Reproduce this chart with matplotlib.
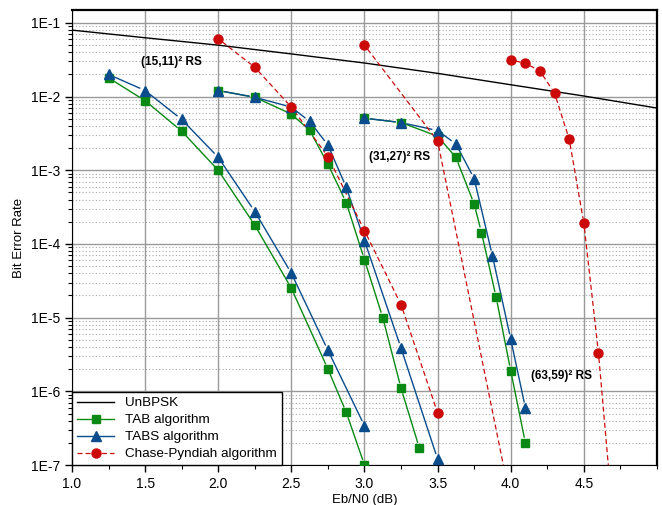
import matplotlib
matplotlib.use('Agg')
from matplotlib import pyplot as plt
from matplotlib.lines import Line2D
from matplotlib.ticker import LogLocator, MultipleLocator, FuncFormatter, NullFormatter
import numpy as np

plt.rcParams['font.family'] = ['Liberation Sans', 'DejaVu Sans']

# uncoded BPSK reference curve
ebn0_uncoded = [1.0, 1.5, 2.0, 2.5, 3.0, 3.5, 4.0, 4.5, 5.0]
ber_uncoded = [0.080, 0.063, 0.050, 0.038, 0.0286, 0.0207, 0.0145, 0.0102, 0.0070]

# (15,11)^2 RS product code
tab_15_x = [1.25, 1.5, 1.75, 2.0, 2.25, 2.5, 2.75, 2.875, 3.0]
tab_15_y = [1.8e-2, 8.8e-3, 3.4e-3, 1.0e-3, 1.8e-4, 2.5e-5, 2.0e-6, 5.2e-7, 1.0e-7]
tabs_15_x = [1.25, 1.5, 1.75, 2.0, 2.25, 2.5, 2.75, 3.0]
tabs_15_y = [2.0e-2, 1.21e-2, 4.9e-3, 1.5e-3, 2.75e-4, 4.0e-5, 3.6e-6, 3.4e-7]
chase_15_x = [2.0, 2.25, 2.5, 2.75, 3.0, 3.25, 3.5]
chase_15_y = [6.1e-2, 2.5e-2, 7.2e-3, 1.54e-3, 1.52e-4, 1.5e-5, 5.1e-7]

# (31,27)^2 RS product code
tab_31_x = [2.0, 2.25, 2.5, 2.625, 2.75, 2.875, 3.0, 3.125, 3.25, 3.375]
tab_31_y = [1.21e-2, 9.8e-3, 5.8e-3, 3.5e-3, 1.21e-3, 3.65e-4, 6.1e-5, 1.0e-5, 1.1e-6, 1.7e-7]
tabs_31_x = [2.0, 2.25, 2.5, 2.625, 2.75, 2.875, 3.0, 3.25, 3.5]
tabs_31_y = [1.21e-2, 9.8e-3, 7.2e-3, 4.6e-3, 2.2e-3, 5.9e-4, 1.11e-4, 3.85e-6, 1.2e-7]
chase_31_x = [3.0, 3.5, 4.0]
chase_31_y = [5.0e-2, 2.5e-3, 3.2e-8]

# (63,59)^2 RS product code
tab_63_x = [3.0, 3.25, 3.5, 3.625, 3.75, 3.8, 3.9, 4.0, 4.1]
tab_63_y = [5.1e-3, 4.45e-3, 2.9e-3, 1.5e-3, 3.47e-4, 1.43e-4, 1.9e-5, 1.9e-6, 2.0e-7]
tabs_63_x = [3.0, 3.25, 3.5, 3.625, 3.75, 3.875, 4.0, 4.1]
tabs_63_y = [5.1e-3, 4.45e-3, 3.46e-3, 2.28e-3, 7.7e-4, 6.9e-5, 5.1e-6, 6.0e-7]
chase_63_x = [4.0, 4.1, 4.2, 4.3, 4.4, 4.5, 4.6, 4.7]
chase_63_y = [3.15e-2, 2.84e-2, 2.23e-2, 1.11e-2, 2.64e-3, 1.91e-4, 3.3e-6, 1.8e-8]

green = '#0a8a14'
blue = '#0a4c8c'
red = '#cc0a0a'

fig = plt.figure(figsize=(6.62, 5.05), dpi=100)
ax = fig.add_axes([0.1088, 0.0792, 0.8836, 0.9010])
ax.set_yscale('log')
ax.set_xlim(1.0, 5.0)
ax.set_ylim(1e-7, 0.15)


def gapped(x, y, color, ls, lw, gap=6):
    # draw the segments between markers but stop a few pixels short of them
    pts = ax.transData.transform(np.column_stack([x, y]))
    inv = ax.transData.inverted()
    for p0, p1 in zip(pts[:-1], pts[1:]):
        d = p1 - p0
        L = np.hypot(d[0], d[1])
        if L <= 2 * gap:
            continue
        u = d / L
        seg = inv.transform([p0 + u * gap, p1 - u * gap])
        ax.plot(seg[:, 0], seg[:, 1], color=color, ls=ls, lw=lw, zorder=3)


ax.plot(ebn0_uncoded, ber_uncoded, color='black', lw=1.0, zorder=3)

for x, y in [(tab_15_x, tab_15_y), (tab_31_x, tab_31_y), (tab_63_x, tab_63_y)]:
    gapped(x, y, green, '-', 1.0)
    ax.plot(x, y, ls='none', marker='s', ms=6, color=green, zorder=4)
for x, y in [(tabs_15_x, tabs_15_y), (tabs_31_x, tabs_31_y), (tabs_63_x, tabs_63_y)]:
    gapped(x, y, blue, '-', 1.0)
    ax.plot(x, y, ls='none', marker='^', ms=6.5, color=blue, zorder=4)
for x, y in [(chase_15_x, chase_15_y), (chase_31_x, chase_31_y), (chase_63_x, chase_63_y)]:
    gapped(x, y, red, (0, (4, 2.5)), 0.9, gap=5)
    ax.plot(x, y, ls='none', marker='o', ms=6.5, color=red, zorder=4)

# code labels
ax.text(1.47, 0.0296, '(15,11)² RS', fontsize=8.5, fontweight='bold', va='center')
ax.text(3.03, 1.52e-3, '(31,27)² RS', fontsize=8.5, fontweight='bold', va='center')
ax.text(4.14, 1.6e-6, '(63,59)² RS', fontsize=8.5, fontweight='bold', va='center')

# ticks and grid
ax.set_xticks(np.arange(1.0, 5.0, 0.5))
ax.xaxis.set_major_formatter(FuncFormatter(lambda v, p: f'{v:.1f}'))
ax.xaxis.set_minor_locator(MultipleLocator(0.25))
ax.yaxis.set_major_locator(LogLocator(base=10, numticks=20))
ax.yaxis.set_minor_locator(LogLocator(base=10, subs=np.arange(2, 10), numticks=20))
ax.yaxis.set_major_formatter(FuncFormatter(lambda v, p: f'1E{int(round(np.log10(v)))}'))
ax.yaxis.set_minor_formatter(NullFormatter())
ax.tick_params(which='major', direction='out', length=5, width=1, labelsize=10, colors='black')
ax.tick_params(which='minor', direction='out', length=3, width=0.8)
ax.set_axisbelow(True)
ax.grid(which='major', axis='both', color='#9a9a9a', lw=1.0, ls='-')
ax.grid(which='minor', axis='y', color='#a8a8a8', lw=0.8, ls=(0, (1, 2)))
for s in ax.spines.values():
    s.set_color('black')
ax.spines['top'].set_linewidth(1.6)
ax.spines['right'].set_linewidth(1.6)

ax.set_xlabel('Eb/N0 (dB)', fontsize=9.5, labelpad=2)
ax.set_ylabel('Bit Error Rate', fontsize=9.5, labelpad=4)

# legend
handles = [
    Line2D([], [], color='black', lw=1.0),
    Line2D([], [], color=green, lw=1.0, marker='s', ms=6),
    Line2D([], [], color=blue, lw=1.0, marker='^', ms=6.5),
    Line2D([], [], color=red, lw=0.9, ls=(0, (4, 2.5)), marker='o', ms=6.5),
]
labels = ['UnBPSK', 'TAB algorithm', 'TABS algorithm', 'Chase-Pyndiah algorithm']
leg = ax.legend(handles, labels, loc='lower left', borderaxespad=0, fancybox=False,
                edgecolor='black', framealpha=1, fontsize=9.7, handlelength=2.8,
                labelspacing=0.34, borderpad=0.35, handletextpad=0.8)
leg.get_frame().set_linewidth(1.0)

fig.savefig('out.png', dpi=100)
